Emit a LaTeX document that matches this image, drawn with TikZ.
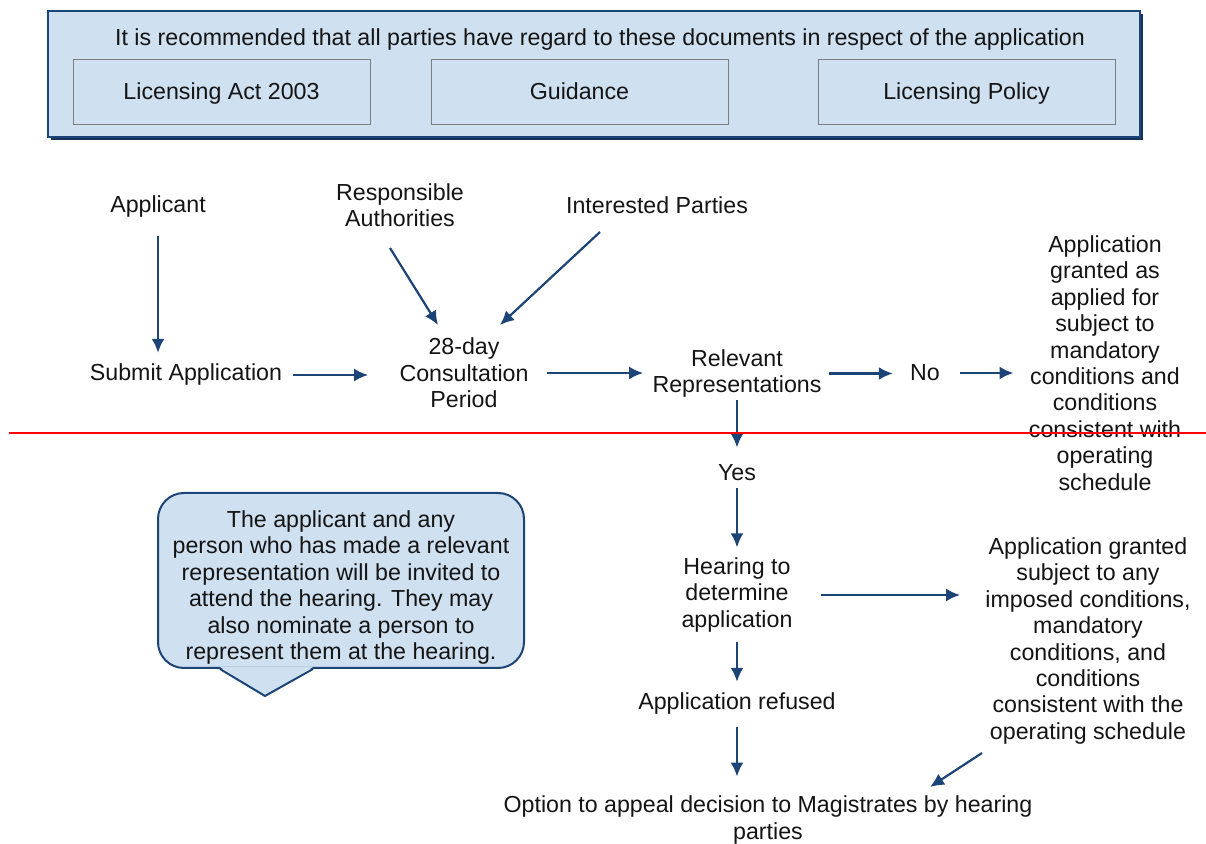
\documentclass[tikz,border=0pt]{standalone}
\usepackage{fontspec}
\setmainfont{Liberation Sans}
\usetikzlibrary{arrows.meta,positioning,calc,shadows}

\definecolor{paleblue}{RGB}{207,224,241}
\definecolor{navy}{RGB}{28,68,118}
\definecolor{framegrey}{RGB}{125,125,125}
\definecolor{inktext}{RGB}{20,20,20}

\tikzset{
  lbl/.style={align=center, inner sep=0pt, text=inktext, font=\fontsize{11.6}{13.2}\selectfont},
  flow/.style={draw=navy, line width=1.1pt, -{Latex[length=7pt,width=6.5pt]}},
  topbox/.style={draw=navy, line width=1pt, fill=paleblue, minimum width=546pt, minimum height=63pt,
    drop shadow={shadow xshift=1.5pt, shadow yshift=-1.5pt, fill=navy!75!black, opacity=1}},
  docbox/.style={lbl, draw=framegrey, fill=paleblue, minimum width=148.5pt, minimum height=32.5pt,
    text height=9.5pt, text depth=1.5pt},
  notebox/.style={draw=navy, line width=1pt, fill=paleblue, rounded corners=13pt,
    minimum width=183pt, minimum height=87.5pt}
}

\begin{document}
\begin{tikzpicture}[x=0.5pt,y=-0.5pt]
\useasboundingbox (0,0) rectangle (1206,844);

% documents to have regard to
\node[topbox] (docs) at (594,74) {};
\node[lbl] (intro) at (600,40) {It is recommended that all parties have regard to these documents in respect of the application};
\node[docbox] (act) at (221.5,91.5) {Licensing Act 2003};
\node[docbox] (guid) at (579.5,91.5) {Guidance};
\node[docbox] (pol) at (966.5,91.5) {Licensing Policy};

% parties
\node[lbl] (app) at (158,207) {Applicant};
\node[lbl] (resp) at (400,205) {Responsible\\Authorities};
\node[lbl] (int) at (657,205) {Interested Parties};

% application stages
\node[lbl] (sub) at (186,375) {Submit Application};
\node[lbl] (cons) at (464,373) {28-day\\Consultation\\Period};
\node[lbl] (rel) at (737,373.5) {Relevant\\Representations};
\node[lbl] (no) at (925,373) {No};
\node[lbl] (gr1) at (1105,363) {Application\\granted as\\applied for\\subject to\\mandatory\\conditions and\\conditions\\consistent with\\operating\\schedule};
\node[lbl] (yes) at (737,473) {Yes};
\node[lbl] (hear) at (737,595) {Hearing to\\determine\\application};
\node[lbl] (gr2) at (1088,641) {Application granted\\subject to any\\imposed conditions,\\mandatory\\conditions, and\\conditions\\consistent with the\\operating schedule};
\node[lbl] (ref) at (737,704) {Application refused};
\node[lbl] (opt) at (768,820) {Option to appeal decision to Magistrates by hearing\\parties};

% note on the hearing
\node[notebox] (note) at (341,580.5) {};
\fill[paleblue] ([shift={(-121,-2)}]note.south) -- ([shift={(-76,27)}]note.south) -- ([shift={(-28,-2)}]note.south) -- cycle;
\draw[navy, line width=1pt] ([shift={(-121,0)}]note.south) -- ([shift={(-76,27)}]note.south) -- ([shift={(-28,0)}]note.south);
\node[lbl] (notetxt) at ([yshift=-3.5pt]note.center) {The applicant and any\\person who has made a relevant\\representation will be invited to\\attend the hearing. They may\\also nominate a person to\\represent them at the hearing.};

% arrows
\draw[flow, shorten <=9pt, shorten >=5.5pt] (app.south) -- (app.south |- sub.north);
\draw[flow] ([shift={(-10,43)}]resp.center) -- ([shift={(-26,-48)}]cons.center);
\draw[flow] ([shift={(-57,27)}]int.center) -- ([shift={(36,-48)}]cons.center);
\draw[flow, shorten <=5.5pt, shorten >=15.5pt] (sub.east) -- (sub.east -| cons.west);
\draw[flow, shorten <=9pt, shorten >=4.5pt] (cons.east) -- (cons.east -| rel.west);
\draw[flow, shorten <=3.5pt, shorten >=8.5pt] (rel.east) -- (rel.east -| no.west);
\draw[flow, shorten <=10pt, shorten >=7.5pt] (no.east) -- (no.east -| gr1.west);
\draw[flow, shorten <=1pt, shorten >=8.5pt] (rel.south) -- (rel.south |- yes.north);
\draw[flow, shorten <=3.5pt, shorten >=5pt] (yes.south) -- (yes.south |- hear.north);
\draw[flow, shorten <=14pt, shorten >=12.5pt] (hear.east) -- (hear.east -| gr2.west);
\draw[flow, shorten <=4.5pt, shorten >=5.5pt] (hear.south) -- (hear.south |- ref.north);
\draw[flow, shorten <=6pt, shorten >=9.5pt] (ref.south) -- (ref.south |- opt.north);
\draw[flow] ([shift={(-106,112)}]gr2.center) -- ([shift={(162,-33)}]opt.center);

% red rule across the page
\draw[red, line width=1pt] (9,433) -- (1206,433);
\end{tikzpicture}
\end{document}
